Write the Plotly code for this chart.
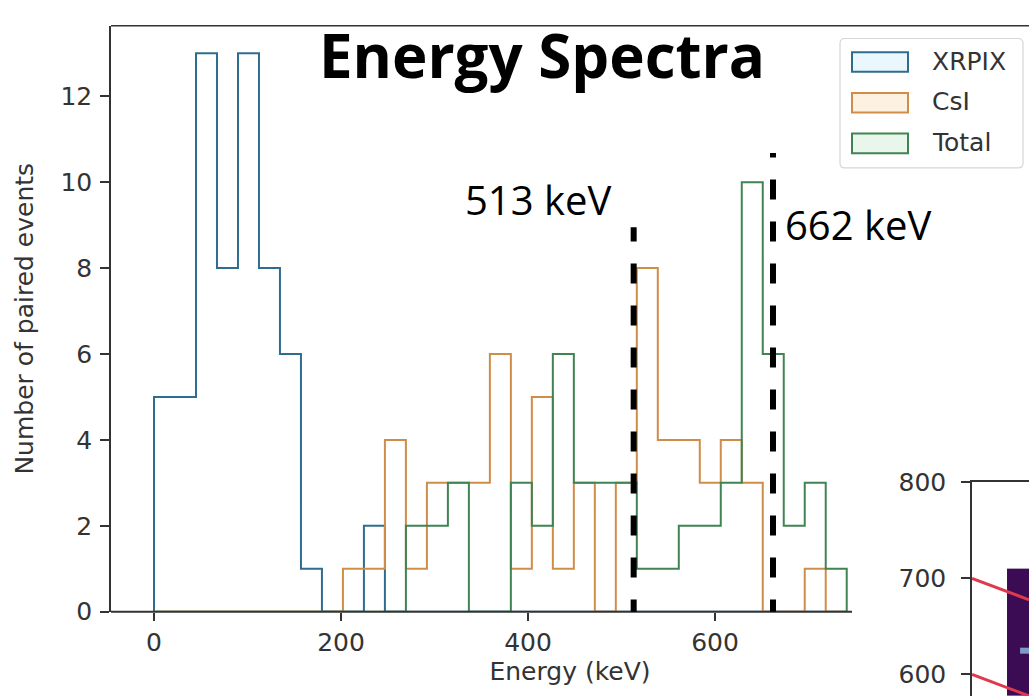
import plotly.graph_objects as go

# ---------------------------------------------------------------
# Energy spectra of paired events (step histograms, common bins)
# ---------------------------------------------------------------
bin_start_kev = 0.0
bin_width_kev = 22.45
n_bins = 33

series_names = ["XRPIX", "CsI", "Total"]

xrpix_counts = [5, 5, 13, 8, 13, 8, 6, 1, 0, 0, 2, 0, 0, 0, 0, 0, 0,
                0, 0, 0, 0, 0, 0, 0, 0, 0, 0, 0, 0, 0, 0, 0, 0]
csi_counts = [0, 0, 0, 0, 0, 0, 0, 0, 0, 1, 1, 4, 1, 3, 3, 3, 6,
              1, 5, 1, 3, 0, 3, 8, 4, 4, 3, 4, 3, 0, 0, 1, 0]
total_counts = [0, 0, 0, 0, 0, 0, 0, 0, 0, 0, 0, 0, 2, 2, 3, 0, 0,
                3, 2, 6, 3, 3, 3, 1, 1, 2, 2, 3, 10, 6, 2, 3, 1]

x_tick_values = [0, 200, 400, 600]
y_tick_values = [0, 2, 4, 6, 8, 10, 12]

# reference photo-peak markers
marker_energies_kev = [513, 662]
marker_labels = ["513 keV", "662 keV"]

# corner panel: 2-D map with constant-total guide lines
inset_totals_kev = [700, 600]
inset_x_span = [0, 22.3]
inset_cell_x = [13.7, 18.8, 22.3]
inset_cell_y = [577.6, 621.5, 627.8, 710.2]
inset_cell_z = [[0, 0], [0, 1], [0, 0]]
inset_tick_values = [600, 700, 800]

# ---------------------------------------------------------------
W, H = 1029, 696
colors = ["#2f6d8e", "#cf8d4a", "#3f8452"]
axis_color = "#333333"
mpl_font = "DejaVu Sans"
slide_font = "Open Sans"


def px_x(p):
    return p / W


def px_y(p):
    return 1 - p / H


edges = [bin_start_kev + i * bin_width_kev for i in range(n_bins + 1)]

fig = go.Figure()

for name, counts, color in zip(series_names,
                               [xrpix_counts, csi_counts, total_counts],
                               colors):
    fig.add_trace(go.Scatter(
        x=[edges[0]] + edges,
        y=[0] + counts + [0],
        mode="lines",
        line=dict(shape="hv", color=color, width=2),
        name=name,
        showlegend=False,
        hoverinfo="skip",
        xaxis="x", yaxis="y",
    ))

# corner panel traces
fig.add_trace(go.Heatmap(
    x=inset_cell_x, y=inset_cell_y, z=inset_cell_z,
    colorscale=[[0, "#3b0b54"], [1, "#7d9cc2"]],
    zmin=0, zmax=1, showscale=False, hoverinfo="skip",
    xaxis="x2", yaxis="y2",
))
for tot in inset_totals_kev:
    fig.add_trace(go.Scatter(
        x=inset_x_span,
        y=[tot - v for v in inset_x_span],
        mode="lines",
        line=dict(color="#e0394c", width=3),
        showlegend=False, hoverinfo="skip",
        xaxis="x2", yaxis="y2",
    ))

main_x_domain = [px_x(111), 1.0]
main_y_domain = [px_y(610), px_y(12)]

fig.update_layout(
    width=W, height=H,
    margin=dict(l=0, r=0, t=0, b=0),
    paper_bgcolor="white",
    plot_bgcolor="white",
    showlegend=False,
    title=dict(
        text="Energy Spectra",
        x=px_x(542), xanchor="center",
        y=px_y(57), yanchor="middle",
        font=dict(family=slide_font, size=60, color="black", weight="bold"),
    ),
    xaxis=dict(
        domain=main_x_domain, anchor="y",
        range=[-46, 935.8],
        tickvals=x_tick_values,
        ticks="outside", ticklen=8, tickwidth=1.5, tickcolor=axis_color,
        showline=False, showgrid=False, zeroline=False,
        tickfont=dict(family=mpl_font, size=25, color=axis_color),
        title=dict(text="Energy (keV)", standoff=6,
                   font=dict(family=mpl_font, size=25, color=axis_color)),
        automargin=False,
    ),
    yaxis=dict(
        domain=main_y_domain, anchor="x",
        range=[0, 13.64],
        tickvals=y_tick_values,
        ticks="outside", ticklen=9, tickwidth=1.5, tickcolor=axis_color,
        ticklabelstandoff=3,
        showline=True, linecolor=axis_color, linewidth=1.5,
        showgrid=False, zeroline=False,
        tickfont=dict(family=mpl_font, size=25, color=axis_color),
        title=dict(text="Number of paired events", standoff=20,
                   font=dict(family=mpl_font, size=25, color=axis_color)),
        automargin=False,
    ),
    xaxis2=dict(
        domain=[px_x(972), 1.0], anchor="y2", side="top",
        range=inset_x_span,
        showline=True, linecolor=axis_color, linewidth=1.5,
        ticks="", showticklabels=False, showgrid=False, zeroline=False,
    ),
    yaxis2=dict(
        domain=[0, px_y(478)], anchor="x2",
        range=[577.6, 800],
        tickvals=inset_tick_values,
        ticks="outside", ticklen=9, tickwidth=1.5, tickcolor=axis_color,
        ticklabelstandoff=10,
        showline=True, linecolor=axis_color, linewidth=1.5,
        showgrid=False, zeroline=False,
        tickfont=dict(family=mpl_font, size=25, color=axis_color),
    ),
)

shapes = []
# top and bottom spines of the histogram frame
shapes.append(dict(type="line", xref="x domain", yref="y domain",
                   x0=0, x1=1, y0=1, y1=1,
                   line=dict(color=axis_color, width=1.5)))
shapes.append(dict(type="line", xref="x domain", yref="y domain",
                   x0=0, x1=(852 - 111) / (W - 111), y0=0, y1=0,
                   line=dict(color=axis_color, width=2.2)))

# dashed photo-peak markers
marker_tops = [8.95, 10.68]
for e, top in zip(marker_energies_kev, marker_tops):
    shapes.append(dict(type="line", xref="x", yref="y",
                       x0=e, x1=e, y0=-0.18, y1=top,
                       line=dict(color="black", width=6, dash="20px,22px")))


# legend frame with rounded corners
def rounded_rect(x0, y0, x1, y1, r):
    X0, X1 = px_x(x0), px_x(x1)
    Y0, Y1 = px_y(y0), px_y(y1)
    rx, ry = r / W, r / H
    return (f"M {X0 + rx},{Y0} L {X1 - rx},{Y0} Q {X1},{Y0} {X1},{Y0 - ry} "
            f"L {X1},{Y1 + ry} Q {X1},{Y1} {X1 - rx},{Y1} "
            f"L {X0 + rx},{Y1} Q {X0},{Y1} {X0},{Y1 + ry} "
            f"L {X0},{Y0 - ry} Q {X0},{Y0} {X0 + rx},{Y0} Z")


shapes.append(dict(type="path", xref="paper", yref="paper",
                   path=rounded_rect(840, 25, 1023, 157, 5),
                   line=dict(color="#d6d6d6", width=1.2),
                   fillcolor="rgba(255,255,255,0.85)"))

patch_fills = ["#eaf7fc", "#fdf1e2", "#e9f6ec"]
legend_rows = [49, 90.5, 132]
annotations = []
for name, color, fill, yc in zip(series_names, colors, patch_fills, legend_rows):
    shapes.append(dict(type="rect", xref="paper", yref="paper",
                       x0=px_x(852), x1=px_x(908),
                       y0=px_y(yc + 10), y1=px_y(yc - 10),
                       line=dict(color=color, width=2), fillcolor=fill))
    annotations.append(dict(text=name, xref="paper", yref="paper",
                            x=px_x(930), y=px_y(yc - 1),
                            xanchor="left", yanchor="middle", showarrow=False,
                            font=dict(family=mpl_font, size=25, color=axis_color)))

# photo-peak labels
annotations.append(dict(text=marker_labels[0], xref="x", yref="y",
                        x=491, y=9.6, xanchor="right", yanchor="middle",
                        showarrow=False,
                        font=dict(family=slide_font, size=40, color="black")))
annotations.append(dict(text=marker_labels[1], xref="x", yref="y",
                        x=672.5, y=9.02, xanchor="left", yanchor="middle",
                        showarrow=False,
                        font=dict(family=slide_font, size=40, color="black")))

fig.update_layout(shapes=shapes, annotations=annotations)

fig.write_html("out.html")
